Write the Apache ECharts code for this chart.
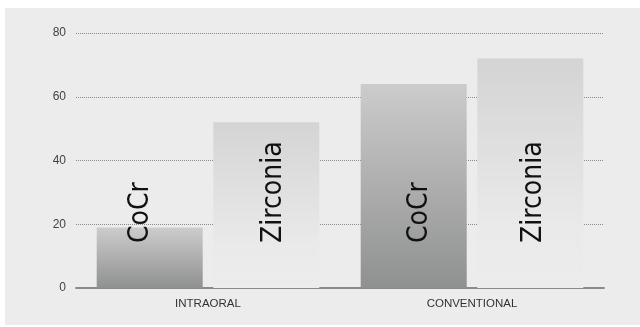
<!DOCTYPE html>
<html>
<head>
<meta charset="utf-8">
<script src="https://cdn.jsdelivr.net/npm/echarts@6/dist/echarts.min.js"></script>
<style>
  html, body { margin: 0; padding: 0; background: #ffffff; width: 640px; height: 327px; overflow: hidden; }
  #chart { position: absolute; left: 5px; top: 8px; width: 635px; height: 317px; background: #ececec; }
</style>
</head>
<body>
<div id="chart"></div>
<script>
// ---- data ----
const categories = ['INTRAORAL', 'CONVENTIONAL'];
const seriesNames = ['CoCr', 'Zirconia'];
const cocrValues = [19, 64];
const zirconiaValues = [52, 72];
const yTicks = [0, 20, 40, 60, 80];

// ---- style (horizontal label nudges, px) ----
const labelNudge = { CoCr: [-9, 6], Zirconia: [7, 3] };

const chart = echarts.init(document.getElementById('chart'), null, { renderer: 'canvas' });

function labelFor(name, i) {
  return {
    show: true,
    formatter: name,
    position: 'insideBottom',
    distance: 45,
    rotate: 90,
    align: 'left',
    verticalAlign: 'middle',
    offset: [0, labelNudge[name][i]],
    color: '#111',
    fontSize: 28,
    fontFamily: '"DejaVu Sans Condensed", "Liberation Sans Narrow", "Liberation Sans", Arial, sans-serif'
  };
}

const cocrGrad = new echarts.graphic.LinearGradient(0, 0, 0, 1, [
  { offset: 0, color: '#cccccc' },
  { offset: 1, color: '#8f9090' }
]);
const zirGrad = new echarts.graphic.LinearGradient(0, 0, 0, 1, [
  { offset: 0, color: '#d4d4d4' },
  { offset: 0.75, color: '#eaeaea' },
  { offset: 1, color: '#ececec' }
]);

chart.setOption({
  animation: false,
  backgroundColor: '#ececec',
  grid: { left: 71, right: 36, top: 25, bottom: 37, containLabel: false },
  xAxis: {
    type: 'category',
    data: categories,
    axisLine: { show: true, lineStyle: { color: '#8a8a8a', width: 2 } },
    axisTick: { show: false },
    axisLabel: { color: '#333', fontSize: 11.5, margin: 10, fontFamily: '"Liberation Sans", Arial, sans-serif' }
  },
  yAxis: {
    type: 'value',
    min: yTicks[0],
    max: yTicks[yTicks.length - 1],
    interval: 20,
    axisLine: { show: false },
    axisTick: { show: false },
    axisLabel: { color: '#444', fontSize: 12, margin: 10, fontFamily: '"Liberation Sans", Arial, sans-serif' },
    splitLine: { show: true, lineStyle: { color: '#8a8a8a', type: [1, 1], width: 1 } }
  },
  series: [
    {
      name: seriesNames[0],
      type: 'bar',
      barWidth: 106,
      barGap: '10%',
      z: 3,
      itemStyle: { color: cocrGrad },
      data: cocrValues.map((v, i) => ({ value: v, label: labelFor('CoCr', i) }))
    },
    {
      name: seriesNames[1],
      type: 'bar',
      barWidth: 106,
      barGap: '10%',
      z: 3,
      itemStyle: { color: zirGrad },
      data: zirconiaValues.map((v, i) => ({ value: v, label: labelFor('Zirconia', i) }))
    }
  ]
});
</script>
</body>
</html>
